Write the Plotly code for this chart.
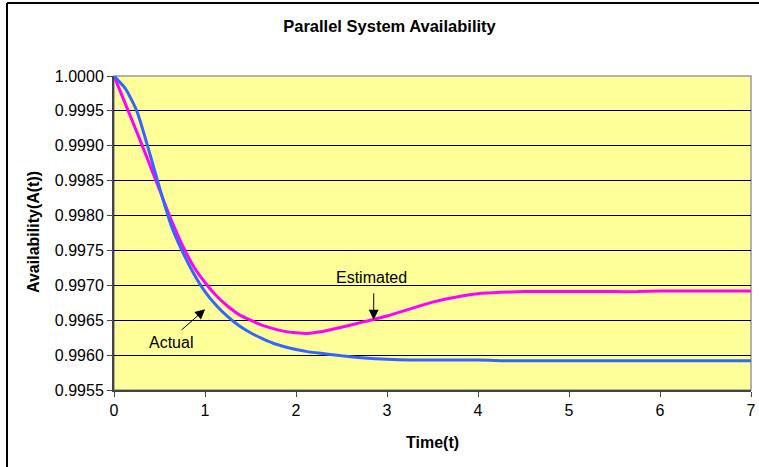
import plotly.graph_objects as go

# ---- data ----
time = [0, 0.125, 0.25, 0.375, 0.5, 0.625, 0.75, 0.875, 1.0, 1.125, 1.25, 1.375, 1.5, 1.625,
        1.75, 1.875, 2.0, 2.125, 2.25, 2.5, 2.75, 3.0, 3.25, 3.5, 3.75, 4.0, 4.25, 4.5, 4.75,
        5.0, 5.25, 5.5, 5.75, 6.0, 6.25, 6.5, 6.75, 7.0]
actual = [1.00000, 0.99982, 0.99950, 0.99897, 0.99840, 0.99787, 0.99749, 0.99717, 0.99691,
          0.99671, 0.99655, 0.99642, 0.99632, 0.99624, 0.99617, 0.99612, 0.99608, 0.99605,
          0.99603, 0.99599, 0.99596, 0.99594, 0.99593, 0.99593, 0.99593, 0.99593, 0.99592,
          0.99592, 0.99592, 0.99592, 0.99592, 0.99592, 0.99592, 0.99592, 0.99592, 0.99592,
          0.99592, 0.99592]
estimated = [1.00000, 0.99960, 0.99920, 0.99879, 0.99837, 0.99795, 0.99758, 0.99727, 0.99704,
             0.99685, 0.99670, 0.99658, 0.99650, 0.99643, 0.99638, 0.99634, 0.99632, 0.99631,
             0.99633, 0.99640, 0.99648, 0.99656, 0.99666, 0.99676, 0.99683, 0.99688, 0.99690,
             0.99691, 0.99691, 0.99691, 0.99691, 0.99691, 0.99691, 0.99692, 0.99692, 0.99692,
             0.99692, 0.99692]
y_ticks = [0.9955, 0.9960, 0.9965, 0.9970, 0.9975, 0.9980, 0.9985, 0.9990, 0.9995, 1.0000]
x_ticks = [0, 1, 2, 3, 4, 5, 6, 7]

FONT = "Liberation Sans, Arial, sans-serif"

fig = go.Figure()
fig.add_trace(go.Scatter(x=time, y=estimated, mode="lines", name="Estimated",
                         line=dict(color="#FF00FF", width=3, shape="spline", smoothing=0.6)))
fig.add_trace(go.Scatter(x=time, y=actual, mode="lines", name="Actual",
                         line=dict(color="#3366FF", width=3, shape="spline", smoothing=0.6)))

L, R, T, B = 114, 8, 76, 77
W, H = 759, 467
pw, ph = W - L - R, H - T - B

def px_x(px):
    return (px - L) / pw

def px_y(py):
    return (H - B - py) / ph

fig.update_layout(
    width=W, height=H,
    autosize=False,
    margin=dict(l=L, r=R, t=T, b=B, pad=0, autoexpand=False),
    paper_bgcolor="white",
    plot_bgcolor="#FFFF99",
    showlegend=False,
    font=dict(family=FONT, size=16, color="black"),
    title=dict(text="<b>Parallel System Availability</b>", x=389.5 / W, xanchor="center",
               y=1 - 26 / H, yanchor="middle", font=dict(family=FONT, size=16.5, color="black")),
    xaxis=dict(range=[0, 7], tickvals=x_ticks, ticktext=[str(v) for v in x_ticks],
               automargin=False,
               showgrid=False, zeroline=False, showline=True, linecolor="#444444", linewidth=2,
               ticks="outside", ticklen=5, tickwidth=1, tickcolor="#444444",
               tickfont=dict(family=FONT, size=16, color="black")),
    yaxis=dict(range=[0.9955, 1.0000], tickvals=y_ticks, ticktext=[f"{v:.4f}" for v in y_ticks],
               automargin=False,
               showgrid=True, gridcolor="black", gridwidth=1, zeroline=False,
               showline=True, linecolor="#444444", linewidth=2,
               ticks="outside", ticklen=5, tickwidth=1, tickcolor="#444444",
               tickfont=dict(family=FONT, size=16, color="black")),
)

# plot-area border (gray top/right)
fig.add_shape(type="rect", xref="paper", yref="paper", x0=0, x1=1, y0=0, y1=1,
              line=dict(color="#999999", width=1.5), fillcolor="rgba(0,0,0,0)", layer="below")
# chart outer border (left and top edges visible)
fig.add_shape(type="line", xref="paper", yref="paper",
              x0=px_x(7), x1=px_x(7), y0=px_y(H + 5), y1=px_y(3),
              line=dict(color="black", width=2))
fig.add_shape(type="line", xref="paper", yref="paper",
              x0=px_x(7), x1=px_x(W + 5), y0=px_y(3), y1=px_y(3),
              line=dict(color="black", width=2))

# axis titles
fig.add_annotation(text="<b>Time(t)</b>", xref="paper", yref="paper", x=px_x(432), y=px_y(442),
                   xanchor="center", yanchor="middle", showarrow=False,
                   font=dict(family=FONT, size=16, color="black"))
fig.add_annotation(text="<b>Availability(A(t))</b>", xref="paper", yref="paper", x=px_x(33),
                   y=px_y(232), xanchor="center", yanchor="middle", textangle=-90, showarrow=False,
                   font=dict(family=FONT, size=16, color="black"))

# callouts
fig.add_annotation(text="Estimated", x=2.834, y=0.997113, showarrow=False,
                   xanchor="center", yanchor="middle", font=dict(family=FONT, size=16, color="black"))
fig.add_annotation(text="", x=2.854, y=0.996505, ax=0, ay=-28, axref="pixel", ayref="pixel",
                   showarrow=True, arrowhead=2, arrowsize=2, arrowwidth=1, arrowcolor="black")
fig.add_annotation(text="Actual", x=0.627, y=0.99618, showarrow=False,
                   xanchor="center", yanchor="middle", font=dict(family=FONT, size=16, color="black"))
fig.add_annotation(text="", x=1.0016, y=0.996658, ax=-25, ay=22, axref="pixel", ayref="pixel",
                   showarrow=True, arrowhead=2, arrowsize=2, arrowwidth=1, arrowcolor="black")

fig.write_html("out.html")
